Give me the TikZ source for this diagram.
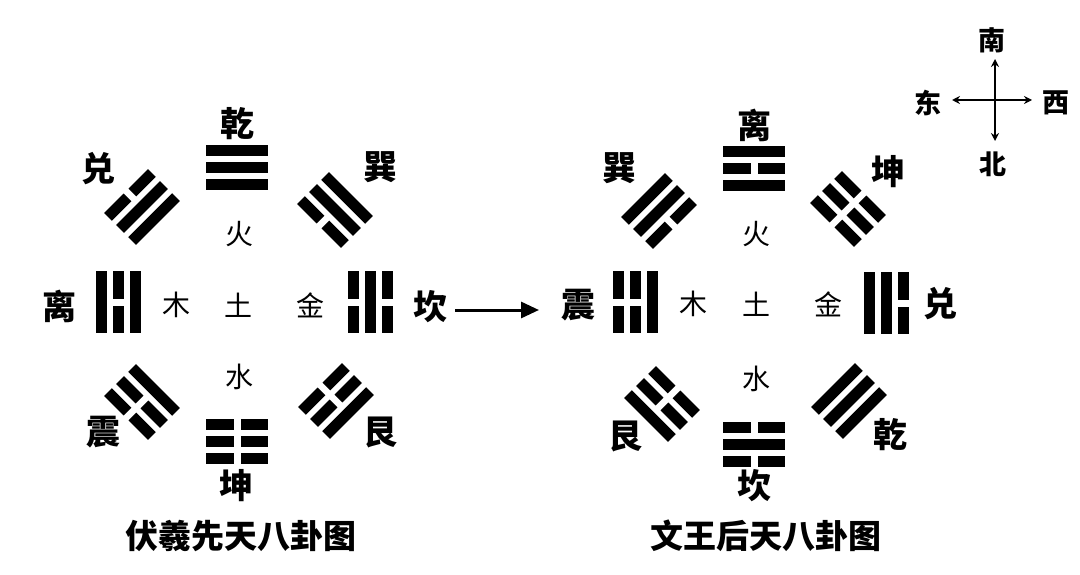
\documentclass[tikz,border=0pt]{standalone}
\usepackage{fontspec}
\newfontfamily\cjk{Noto Sans CJK SC}
\usetikzlibrary{arrows.meta}
\newcommand\yaoline[2]{%
  \ifnum#2=1
    \fill (-31,#1-5.5) rectangle (31,#1+5.5);
  \else
    \fill (-31,#1-5.5) rectangle (-3.5,#1+5.5);
    \fill (3.5,#1-5.5) rectangle (31,#1+5.5);
  \fi}
% center x, center y, angle, inner, middle, outer
\newcommand\guasign[6]{%
  \begin{scope}[shift={(#1,#2)},rotate=#3]
    \yaoline{-17}{#4}\yaoline{0}{#5}\yaoline{17}{#6}
  \end{scope}}
\begin{document}
\begin{tikzpicture}[x=1pt,y=1pt,yscale=-1,
  guaname/.style={font=\cjk\bfseries\fontsize{34}{34}\selectfont,inner sep=0pt,anchor=center},
  elem/.style={font=\cjk\fontsize{28}{28}\selectfont,inner sep=0pt,anchor=center},
  compass/.style={font=\cjk\bfseries\fontsize{27}{27}\selectfont,inner sep=0pt,anchor=center},
  title/.style={font=\cjk\bfseries\fontsize{33}{33}\selectfont,inner sep=0pt,anchor=center},
  bigarrow/.style={line width=3pt,-{Triangle[length=18pt,width=16pt]}},
  carrow/.style={line width=2pt,{Stealth[length=8pt,width=8pt]}-{Stealth[length=8pt,width=8pt]}}]
\useasboundingbox (0,0) rectangle (1080,575);
\fill[white] (0,0) rectangle (1080,575);

% ---------- left diagram (Fuxi) ----------
\guasign{237}{168}{180}{1}{1}{1}
\guasign{237}{441}{0}{0}{0}{0}
\guasign{118}{302}{90}{1}{0}{1}
\guasign{370}{302}{-90}{0}{1}{0}
\guasign{142}{207}{135}{1}{1}{0}
\guasign{335}{210}{-135}{0}{1}{1}
\guasign{142}{402}{45}{1}{0}{0}
\guasign{336}{401}{-45}{0}{0}{1}

\node[guaname] (qianL) at (237,124) {乾};
\node[guaname] (duiL)  at (98,169)  {兑};
\node[guaname] (xunL)  at (380,167) {巽};
\node[guaname] (liL)   at (59,306)  {离};
\node[guaname] (kanL)  at (430,307) {坎};
\node[guaname] (zhenL) at (103,432) {震};
\node[guaname] (genL)  at (380,432) {艮};
\node[guaname] (kunL)  at (236,486) {坤};

\node[elem] (huoL)  at (239,234) {火};
\node[elem] (muL)   at (176,305) {木};
\node[elem] (tuL)   at (238,305) {土};
\node[elem] (jinL)  at (310,305) {金};
\node[elem] (shuiL) at (239,377) {水};

\node[title] (titleL) at (241,536) {伏羲先天八卦图};

% ---------- right diagram (King Wen) ----------
\guasign{754}{169}{180}{1}{0}{1}
\guasign{754}{444}{0}{0}{1}{0}
\guasign{635.5}{302}{90}{1}{0}{0}
\guasign{886}{303}{-90}{1}{1}{0}
\guasign{659}{211}{135}{0}{1}{1}
\guasign{848}{209}{-135}{0}{0}{0}
\guasign{662}{404}{45}{0}{0}{1}
\guasign{849}{401}{-45}{1}{1}{1}

\node[guaname] (liR)   at (754,125) {离};
\node[guaname] (xunR)  at (619,168) {巽};
\node[guaname] (kunR)  at (888,172) {坤};
\node[guaname] (zhenR) at (578,305) {震};
\node[guaname] (duiR)  at (940,304) {兑};
\node[guaname] (genR)  at (625,436) {艮};
\node[guaname] (qianR) at (890,435) {乾};
\node[guaname] (kanR)  at (754,486) {坎};

\node[elem] (huoR)  at (756,234) {火};
\node[elem] (muR)   at (693,304) {木};
\node[elem] (tuR)   at (756,304) {土};
\node[elem] (jinR)  at (828,304) {金};
\node[elem] (shuiR) at (756,379) {水};

\node[title] (titleR) at (766,536) {文王后天八卦图};

% ---------- transition arrow ----------
\coordinate (arrS) at (455,310);
\coordinate (arrE) at (539,310);
\draw[bigarrow] (arrS) -- (arrE);

% ---------- compass ----------
\node[compass] (nan) at (992,40)  {南};
\node[compass] (dong) at (928,103) {东};
\node[compass] (xi)  at (1056,103) {西};
\node[compass] (bei) at (993,164) {北};
\coordinate (cN) at (995,59);
\coordinate (cS) at (995,141);
\coordinate (cW) at (952,100);
\coordinate (cE) at (1032,100);
\draw[carrow] (cN) -- (cS);
\draw[carrow] (cW) -- (cE);
\end{tikzpicture}
\end{document}
